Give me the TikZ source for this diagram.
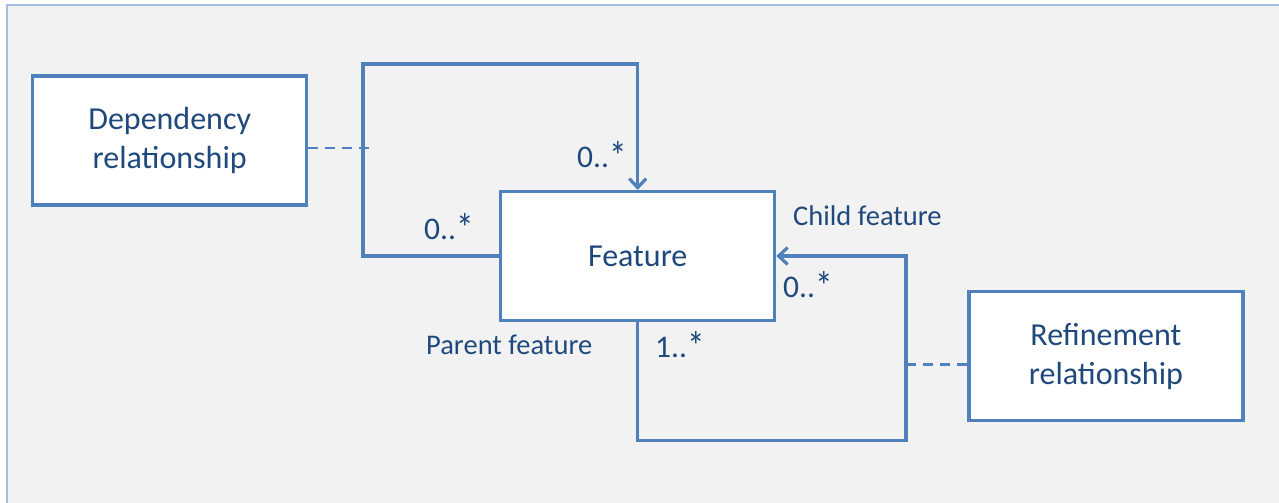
\documentclass[tikz,border=0pt]{standalone}
\usepackage{fontspec}
\usepackage{graphicx}
\setmainfont{Carlito}
\usetikzlibrary{arrows.meta}
\definecolor{umlblue}{HTML}{4F81BD}
\definecolor{umltext}{HTML}{1F497D}
\definecolor{canvas}{HTML}{F2F2F2}
\definecolor{frameblue}{HTML}{A3BEDF}
% a larger asterisk for the "many" multiplicity
\newcommand{\multstar}{\raisebox{-0.1em}{\scalebox{1.12}[1.3]{*}}}
\begin{document}
\begin{tikzpicture}[x=1pt,y=-1pt,
  classbox/.style={draw=umlblue, line width=3.2pt, fill=white,
    minimum width=274pt, minimum height=129pt, text=umltext,
    font=\fontsize{32}{39}\selectfont, align=center, inner sep=0pt},
  assoc/.style={draw=umlblue, line width=3.2pt},
  tipped/.style={assoc, -{Straight Barb[length=9pt,width=17pt]}},
  linkdash/.style={draw=umlblue, line width=2.6pt, dash pattern=on 10pt off 7pt},
  mult/.style={text=umltext, font=\fontsize{31.5}{36}\selectfont,
    anchor=base west, inner sep=0pt},
  role/.style={text=umltext, font=\fontsize{28.5}{34}\selectfont,
    anchor=base west, inner sep=0pt}]

% canvas and its frame
\useasboundingbox (0,0) rectangle (1279,503);
\fill[white] (0,0) rectangle (1279,503);
\fill[canvas] (7,5) rectangle (1279,503);
\draw[frameblue, line width=1.5pt] (7,503) -- (7,5) -- (1279,5);

% classes
\node[classbox] (dep)  at (169.7,140.5) {Dependency\\relationship};
\node[classbox] (feat) at (637.7,256)   {Feature};
\node[classbox] (ref)  at (1105.9,356.2) {Refinement\\relationship};

% corners of the two self-associations
\coordinate (tl) at (363,64);
\coordinate (br) at (906,440.7);

% dependency: feature to feature, over the top
\draw[tipped] (feat.west) -- (feat.west -| tl) -- (tl) -- (tl -| feat.north) -- (feat.north);
% refinement: parent to child, underneath
\draw[tipped] (feat.south) -- (feat.south |- br) -- (br) -- (br |- feat.east) -- (feat.east);

% association classes
\coordinate (depend) at ([yshift=-7.5pt]dep.east -| tl);
\draw[linkdash] ([yshift=-7.5pt]dep.east) -- ([xshift=9pt]depend);
\coordinate (refend) at ([yshift=-8pt]ref.west -| br);
\draw[linkdash] (refend) -- ([yshift=-8pt]ref.west);

% multiplicities and roles
\node[mult] (mtop)   at (577,167) {0..\multstar};
\node[mult] (mleft)  at (424,239) {0..\multstar};
\node[mult] (mright) at (783,297) {0..\multstar};
\node[mult] (mdown)  at (655,357) {1..\multstar};
\node[role] (child)  at (793,225) {Child feature};
\node[role] (parent) at (426,354) {Parent feature};
\end{tikzpicture}
\end{document}
